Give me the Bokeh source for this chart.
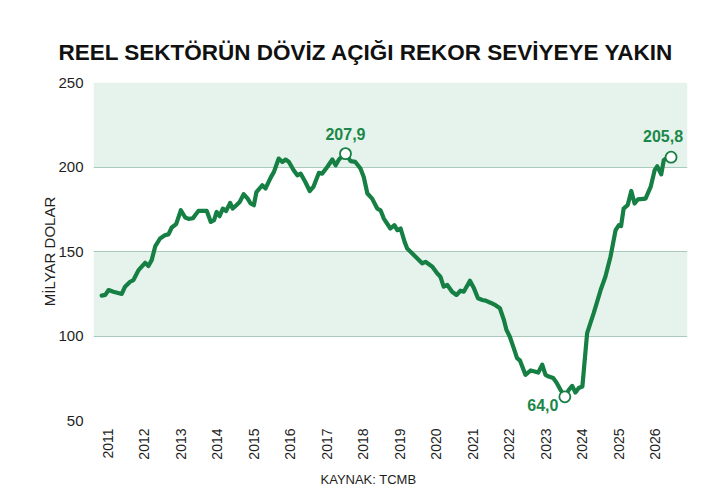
import numpy as np
from bokeh.plotting import figure
from bokeh.models import Range1d, FixedTicker, BoxAnnotation, Title, ColumnDataSource
from bokeh.embed import file_html
from bokeh.resources import INLINE
from bokeh.core.properties import value

# ---------------- data ----------------
title_text = "REEL SEKTÖRÜN DÖVİZ AÇIĞI REKOR SEVİYEYE YAKIN"
source_text = "KAYNAK: TCMB"
y_label = "MİLYAR DOLAR"
year_ticks = list(range(2011, 2027))
y_ticks = [50, 100, 150, 200, 250]

t = [2010.84, 2010.94, 2011.03, 2011.16, 2011.39, 2011.48, 2011.62, 2011.71, 2011.85, 2012.03,
     2012.12, 2012.21, 2012.31, 2012.44, 2012.58, 2012.67, 2012.76, 2012.88, 2013.01, 2013.13,
     2013.22, 2013.34, 2013.40, 2013.49, 2013.72, 2013.83, 2013.92, 2013.99, 2014.07, 2014.16,
     2014.25, 2014.36, 2014.43, 2014.53, 2014.62, 2014.73, 2014.84, 2014.92, 2015.01, 2015.08,
     2015.24, 2015.33, 2015.47, 2015.56, 2015.69, 2015.79, 2015.88, 2015.97, 2016.10, 2016.20,
     2016.29, 2016.42, 2016.54, 2016.64, 2016.79, 2016.88, 2017.02, 2017.16, 2017.25, 2017.34,
     2017.43, 2017.52, 2017.66, 2017.79, 2017.93, 2018.02, 2018.12, 2018.25, 2018.39, 2018.48,
     2018.57, 2018.75, 2018.86, 2018.94, 2019.03, 2019.14, 2019.21, 2019.44, 2019.62, 2019.71,
     2019.90, 2020.03, 2020.12, 2020.21, 2020.31, 2020.44, 2020.56, 2020.67, 2020.76, 2020.93,
     2021.04, 2021.15, 2021.27, 2021.36, 2021.49, 2021.63, 2021.75, 2021.86, 2021.93, 2022.02,
     2022.13, 2022.22, 2022.30, 2022.45, 2022.59, 2022.70, 2022.80, 2022.91, 2023.00, 2023.09,
     2023.21, 2023.30, 2023.41, 2023.53, 2023.64, 2023.73, 2023.82, 2023.91, 2024.01, 2024.14,
     2024.32, 2024.51, 2024.64, 2024.78, 2024.92, 2025.01, 2025.07, 2025.14, 2025.25, 2025.35,
     2025.44, 2025.53, 2025.74, 2025.88, 2025.99, 2026.06, 2026.17, 2026.24, 2026.35, 2026.44]

v = [123.9, 124.3, 127.2, 126.2, 124.9, 129.2, 132.1, 133.1, 139.0, 143.3,
     141.4, 144.9, 153.2, 157.7, 159.7, 160.1, 164.2, 166.2, 174.4, 170.1,
     169.3, 169.7, 171.5, 174.0, 174.0, 167.5, 168.5, 173.4, 170.9, 175.4,
     174.0, 178.8, 175.4, 177.4, 179.3, 183.9, 181.3, 178.4, 177.4, 185.2,
     189.2, 187.3, 193.7, 197.1, 205.0, 203.0, 204.4, 203.0, 198.1, 195.1,
     196.1, 191.1, 185.8, 188.2, 196.5, 196.1, 200.0, 204.4, 201.0, 204.4,
     206.3, 207.9, 203.5, 203.0, 199.1, 194.1, 184.3, 181.3, 175.4, 174.4,
     169.5, 163.6, 165.6, 162.6, 163.6, 155.7, 151.8, 146.9, 143.0, 143.9,
     141.0, 137.1, 135.1, 129.2, 130.2, 126.2, 124.3, 126.8, 126.2, 132.7,
     128.2, 122.3, 121.3, 120.9, 119.7, 118.2, 116.4, 109.5, 103.6, 99.7,
     92.8, 86.9, 85.5, 77.0, 79.6, 79.0, 78.4, 83.0, 77.0, 76.0,
     75.1, 72.5, 68.2, 64.0, 68.2, 70.5, 66.6, 69.2, 70.1, 101.7,
     113.5, 127.2, 135.1, 146.9, 162.6, 165.6, 165.0, 175.4, 177.4, 185.8,
     178.4, 180.8, 181.3, 188.2, 198.1, 200.4, 195.7, 204.0, 205.9, 205.8]

# ---------------- style ----------------
GREEN = "#167f43"
TXT_GREEN = "#1b8748"
BAND = "#e5f3ec"
GRID = "#a9cbbc"
FONT = "Liberation Sans"

p = figure(width=711, height=494, output_backend="svg", toolbar_location=None,
           x_range=Range1d(2010.616, 2026.89), y_range=Range1d(50, 250),
           min_border_left=93, min_border_right=24, min_border_top=82, min_border_bottom=73)
p.outline_line_color = None
p.background_fill_color = "white"
p.border_fill_color = "white"

for lo, hi in [(100, 150), (200, 250)]:
    p.add_layout(BoxAnnotation(bottom=lo, top=hi, fill_color=BAND, fill_alpha=1.0,
                               line_color=None, level="image"))

p.xgrid.grid_line_color = None
p.ygrid.ticker = FixedTicker(ticks=y_ticks)
p.ygrid.grid_line_color = GRID
p.ygrid.grid_line_width = 1.2

# axes
p.xaxis.ticker = FixedTicker(ticks=year_ticks)
p.xaxis.axis_line_color = None
p.xaxis.major_tick_line_color = None
p.xaxis.minor_tick_line_color = None
p.xaxis.major_tick_out = 0
p.xaxis.major_tick_in = 0
p.xaxis.minor_tick_out = 0
p.xaxis.major_label_orientation = np.pi / 2
p.xaxis.major_label_standoff = 8
p.xaxis.major_label_text_font = FONT
p.xaxis.major_label_text_font_size = "14px"
p.xaxis.major_label_text_color = "#1e1e1e"

p.yaxis.ticker = FixedTicker(ticks=y_ticks)
p.yaxis.axis_line_color = None
p.yaxis.major_tick_line_color = None
p.yaxis.minor_tick_line_color = None
p.yaxis.major_label_standoff = 4
p.yaxis.major_label_text_font = FONT
p.yaxis.major_label_text_font_size = "15px"
p.yaxis.major_label_text_color = "#1e1e1e"
p.yaxis.axis_label = y_label
p.yaxis.axis_label_standoff = -3
p.yaxis.axis_label_text_font = FONT
p.yaxis.axis_label_text_font_size = "15px"
p.yaxis.axis_label_text_font_style = "normal"
p.yaxis.axis_label_text_color = "#1e1e1e"

# line
src = ColumnDataSource(dict(t=t, v=v))
p.line("t", "v", source=src, line_width=4.2, line_color=GREEN, line_join="round", line_cap="round")

# highlighted points
arr = np.array(v)
i_max = int(np.argmax(arr))
i_min = int(np.argmin(arr))
i_last = len(v) - 1
idx = [i_max, i_min, i_last]
ann = ColumnDataSource(dict(
    t=[t[i] for i in idx],
    v=[v[i] for i in idx],
    txt=[f"{v[i]:.1f}".replace(".", ",") for i in idx],
    dx=[0, -22, -8],
    dy=[-20, 8, -21],
))
p.scatter("t", "v", source=ann, size=11, fill_color="white", line_color=GREEN, line_width=1.8)
p.text("t", "v", text="txt", source=ann, x_offset="dx", y_offset="dy",
       text_align="center", text_baseline="middle", text_color=TXT_GREEN,
       text_font=value(FONT), text_font_style="bold", text_font_size="16px")

# title
p.add_layout(Title(text=title_text, align="left", offset=-35, standoff=35,
                   text_font=FONT, text_font_size="22.5px", text_font_style="bold",
                   text_color="#111111"), "above")

# source note
p.add_layout(Title(text=source_text, align="left", offset=227, standoff=15,
                   text_font=FONT, text_font_size="13px", text_font_style="normal",
                   text_color="#1e1e1e"), "below")

open("out.html", "w").write(file_html(p, INLINE))
